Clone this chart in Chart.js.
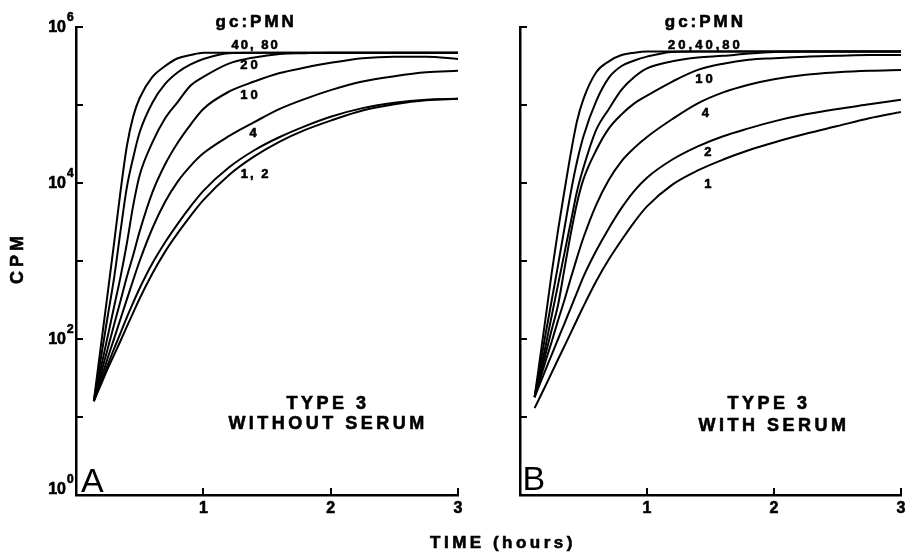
<!DOCTYPE html>
<html>
<head>
<meta charset="utf-8">
<script src="https://cdn.jsdelivr.net/npm/chart.js@4.4.1/dist/chart.umd.min.js"></script>
<style>
  body { margin: 0; background: #fff; }
  #wrap { position: relative; width: 908px; height: 554px; }
  canvas { position: absolute; top: 0; }
  #chartA { left: 0; }
  #chartB { left: 460px; }
  #xTitle {
    position: absolute; left: 380px; width: 246px; top: 533px;
    text-align: center; font: bold 17px "Liberation Sans", Arial, sans-serif;
    letter-spacing: 3.5px; color: #000; -webkit-text-stroke: 0.6px #000;
  }
</style>
</head>
<body>
<div id="wrap">
  <canvas id="chartA" width="476" height="554"></canvas>
  <canvas id="chartB" width="448" height="554"></canvas>
  <div id="xTitle">TIME (hours)</div>
</div>
<script>
// time after start, hours
const timeA = [0.14, 0.2, 0.25, 0.3, 0.35, 0.4, 0.45, 0.5, 0.6, 0.7, 0.8, 0.9, 1.0, 1.2, 1.4, 1.6, 1.8, 2.0, 2.25, 2.5, 2.75, 3.0];
const timeB = [0.115, 0.2, 0.25, 0.3, 0.35, 0.4, 0.45, 0.5, 0.6, 0.7, 0.8, 0.9, 1.0, 1.2, 1.4, 1.6, 1.8, 2.0, 2.25, 2.5, 2.75, 3.0];

// gc:PMN ratios
const ratios = ['80', '40', '20', '10', '4', '2', '1'];

// CPM, panel A (without serum)
const cpmA80 = [16, 93, 400, 1740, 7900, 30000, 72000, 123000, 229000, 316000, 398000, 437000, 468000, 468000, 468000, 468000, 468000, 468000, 468000, 468000, 468000, 468000];
const cpmA40 = [16, 63, 200, 620, 2450, 8900, 21400, 44700, 107000, 186000, 263000, 331000, 389000, 462000, 468000, 468000, 468000, 468000, 468000, 468000, 468000, 468000];
const cpmA20 = [16, 46, 110, 263, 631, 1700, 5250, 12600, 33100, 67600, 110000, 178000, 229000, 339000, 407000, 452000, 462000, 468000, 468000, 468000, 468000, 468000];
const cpmA10 = [16, 38, 76, 155, 309, 631, 1200, 2400, 7590, 17400, 33100, 56200, 89100, 148000, 200000, 257000, 302000, 347000, 398000, 417000, 417000, 389000];
const cpmA4 = [16, 32, 58, 102, 182, 324, 575, 1000, 2630, 5750, 10500, 16600, 24000, 39800, 60300, 89100, 120000, 155000, 200000, 234000, 263000, 275000];
const cpmA2 = [16, 29, 47, 76, 120, 191, 295, 447, 933, 1740, 3020, 5010, 7940, 15800, 26300, 38900, 53700, 70800, 91200, 107000, 117000, 120000];
const cpmA1 = [16, 27, 42, 63, 95, 145, 219, 331, 692, 1320, 2290, 3800, 6030, 12600, 21900, 33900, 47900, 63100, 85100, 102000, 115000, 120000];

// CPM, panel B (with serum)
const cpmB80 = [18, 178, 708, 2510, 7940, 24000, 63100, 120000, 263000, 363000, 437000, 468000, 484000, 484000, 484000, 484000, 484000, 484000, 484000, 484000, 484000, 484000];
const cpmB40 = [18, 112, 316, 891, 2630, 7590, 19100, 39800, 112000, 224000, 316000, 372000, 417000, 479000, 484000, 484000, 484000, 484000, 484000, 484000, 484000, 484000];
const cpmB20 = [18, 79, 200, 501, 1260, 3160, 7940, 15800, 47900, 89100, 158000, 229000, 295000, 363000, 407000, 427000, 457000, 479000, 484000, 484000, 484000, 484000];
const cpmB10 = [18, 63, 132, 275, 794, 2240, 5620, 11200, 26300, 50100, 75900, 105000, 132000, 200000, 282000, 339000, 380000, 398000, 417000, 427000, 437000, 437000];
const cpmB4 = [18, 51, 93, 174, 316, 603, 1120, 2000, 5250, 11000, 19100, 28200, 38900, 66100, 105000, 145000, 182000, 214000, 245000, 263000, 275000, 282000];
const cpmB2 = [18, 40, 63, 100, 158, 251, 398, 631, 1350, 2630, 4790, 7940, 11700, 20000, 29500, 39800, 50100, 61700, 75900, 89100, 102000, 117000];
const cpmB1 = [13, 25, 37, 55, 81, 120, 178, 263, 550, 1050, 1860, 3160, 5010, 9550, 14500, 20000, 26300, 33100, 42700, 53700, 67600, 81300];

const xTicks = [1, 2, 3];
const yTicks = [10, 100, 1000, 10000, 100000, 1000000];
const yLabelPowers = [0, 2, 4, 6];

const FONT = '"Liberation Sans", Arial, sans-serif';

function heavyText(ctx, text, x, y) {
  ctx.fillText(text, x, y);
  ctx.strokeText(text, x, y);
}

const frame = {
  id: 'frame',
  afterDatasetsDraw(chart, args, o) {
    const { ctx, scales: { x, y } } = chart;
    ctx.save();
    ctx.strokeStyle = '#000';
    ctx.fillStyle = '#000';
    ctx.lineWidth = 2;
    ctx.beginPath();
    yTicks.forEach(v => {
      const py = Math.round(y.getPixelForValue(v));
      ctx.moveTo(x.left, py);
      ctx.lineTo(x.left + 7, py);
    });
    xTicks.forEach(v => {
      const px = Math.round(x.getPixelForValue(v));
      ctx.moveTo(px, y.bottom);
      ctx.lineTo(px, y.bottom - 7);
    });
    ctx.stroke();

    ctx.lineWidth = 0.6;
    ctx.lineJoin = 'round';
    ctx.textBaseline = 'middle';
    ctx.textAlign = 'center';
    ctx.font = 'bold 16px ' + FONT;
    xTicks.forEach(v => heavyText(ctx, String(v), x.getPixelForValue(v), y.bottom + 14));

    if (o.yLabels) {
      yLabelPowers.forEach(p => {
        const py = y.getPixelForValue(10 ** p) - (p === 0 ? 6 : 0);
        ctx.textAlign = 'right';
        ctx.font = 'bold 16px ' + FONT;
        heavyText(ctx, '10', x.left - 10, py + 1);
        ctx.textAlign = 'left';
        ctx.font = 'bold 12px ' + FONT;
        heavyText(ctx, String(p), x.left - 9, py - 9);
      });
      ctx.save();
      ctx.translate(18, 260);
      ctx.rotate(-Math.PI / 2);
      ctx.textAlign = 'center';
      ctx.font = 'bold 18px ' + FONT;
      ctx.letterSpacing = '4px';
      heavyText(ctx, 'CPM', 2, 0);
      ctx.restore();
    }

    o.notes.forEach(n => {
      ctx.font = n.font;
      ctx.letterSpacing = n.gap || '0px';
      ctx.textAlign = n.align || 'center';
      if (n.thin) ctx.fillText(n.text, x.getPixelForValue(n.t), y.getPixelForValue(n.v));
      else heavyText(ctx, n.text, x.getPixelForValue(n.t), y.getPixelForValue(n.v));
    });
    ctx.restore();
  }
};

const big = 'bold 17px ' + FONT;
const small = 'bold 13px ' + FONT;
const panel = 'bold 18px ' + FONT;
const letter = '34px ' + FONT;

const notesA = [
  { text: 'gc:PMN', t: 1.415, v: 1150000, font: big, gap: '3px' },
  { text: '40, 80', t: 1.41, v: 575000, font: small, gap: '2px' },
  { text: '20', t: 1.37, v: 324000, font: small, gap: '3px' },
  { text: '10', t: 1.37, v: 132000, font: small, gap: '3px' },
  { text: '4', t: 1.39, v: 43600, font: small },
  { text: '1, 2', t: 1.41, v: 12900, font: small, gap: '2px' },
  { text: 'TYPE 3', t: 1.98, v: 14.8, font: panel, gap: '3.5px' },
  { text: 'WITHOUT SERUM', t: 1.98, v: 8.1, font: panel, gap: '3.5px' },
  { text: 'A', t: 0.04, v: 1.46, font: letter, align: 'left', thin: true }
];

const notesB = [
  { text: 'gc:PMN', t: 1.46, v: 1150000, font: big, gap: '3px' },
  { text: '20,40,80', t: 1.46, v: 589000, font: small, gap: '3px' },
  { text: '10', t: 1.46, v: 214000, font: small, gap: '3px' },
  { text: '4', t: 1.46, v: 77600, font: small },
  { text: '2', t: 1.48, v: 24500, font: small },
  { text: '1', t: 1.48, v: 9550, font: small },
  { text: 'TYPE 3', t: 1.96, v: 14.8, font: panel, gap: '3.5px' },
  { text: 'WITH SERUM', t: 2.0, v: 7.6, font: panel, gap: '3.5px' },
  { text: 'B', t: 0.02, v: 1.55, font: letter, align: 'left', thin: true }
];

function makePanel(id, time, series, padding, yLabels, notes) {
  return new Chart(id, {
    type: 'line',
    data: {
      datasets: series.map((cpm, i) => ({
        label: ratios[i],
        data: time.map((t, j) => ({ x: t, y: cpm[j] })),
        borderColor: '#000',
        borderWidth: 2,
        pointRadius: 0,
        fill: false,
        cubicInterpolationMode: 'monotone'
      }))
    },
    options: {
      responsive: false,
      animation: false,
      devicePixelRatio: 1,
      layout: { padding: padding },
      plugins: {
        legend: { display: false },
        tooltip: { enabled: false },
        frame: { yLabels: yLabels, notes: notes }
      },
      scales: {
        x: {
          type: 'linear', min: 0, max: 3,
          grid: { display: false },
          border: { display: true, color: '#000', width: 2.5 },
          ticks: { display: false }
        },
        y: {
          type: 'logarithmic', min: 1, max: 1000000,
          grid: { display: false },
          border: { display: true, color: '#000', width: 2.5 },
          ticks: { display: false }
        }
      }
    },
    plugins: [frame]
  });
}

makePanel('chartA', timeA, [cpmA80, cpmA40, cpmA20, cpmA10, cpmA4, cpmA2, cpmA1],
  { left: 68, right: 18, top: 27, bottom: 51 }, true, notesA);
makePanel('chartB', timeB, [cpmB80, cpmB40, cpmB20, cpmB10, cpmB4, cpmB2, cpmB1],
  { left: 52, right: 7, top: 27, bottom: 51 }, false, notesB);
</script>
</body>
</html>
